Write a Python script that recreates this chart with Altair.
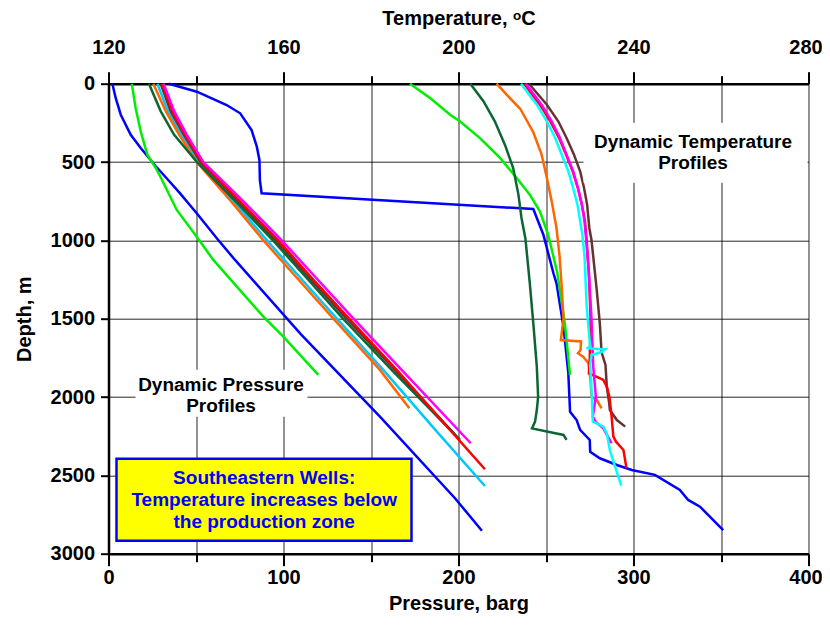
import altair as alt
import pandas as pd

# ---------------- Pressure profiles (pressure barg, depth m) ----------------
p_blue_v = [2.2, 4.1, 7.0, 12.7, 18.4, 27.0, 32.7, 40.9, 50.4, 62.7, 72.3, 110, 155.1, 198, 213.4]
p_blue_d = [0, 91, 198, 326, 411, 527, 597, 700, 827, 998, 1125, 1600, 2125, 2646, 2854]

p_green_v = [13.3, 15.5, 18.4, 22.2, 27.0, 29.8, 39.0, 50.4, 59.9, 88.5, 99.9, 119.9]
p_green_d = [0, 155, 304, 453, 538, 597, 806, 977, 1125, 1487, 1615, 1859]

cl_d = [0, 175, 325, 500, 750, 1000, 1250, 1500, 1827]
p_dkgreen_v = [23.1, 29.8, 37.4, 50.5, 72.5, 94.0, 114.0, 134.0, 161.8, 200.9]
p_dkgreen_d = cl_d + [2274]
p_orange_v = [25.6, 32.7, 40.3, 50.4, 70.0, 88.5, 108.5, 128.5, 155.1, 171.9]
p_orange_d = cl_d + [2072]
p_ltblue_v = [27.9, 34.0, 41.5, 51.5, 71.5, 90.5, 110.5, 130.5, 157.0, 186.0, 215.1]
p_ltblue_d = cl_d + [2200, 2568]
p_brown_v = [29.8, 35.5, 43.0, 52.5, 74.0, 95.5, 115.5, 136.0, 163.7, 198.0]
p_brown_d = cl_d + [2240]
p_red_v = [30.8, 36.5, 43.8, 53.3, 75.0, 97.0, 117.0, 137.5, 164.7, 215.1]
p_red_d = cl_d + [2461]
p_magenta_v = [31.5, 37.5, 44.7, 54.2, 77.0, 99.0, 119.5, 140.0, 167.5, 207.0]
p_magenta_d = cl_d + [2295]

# ---------------- Temperature profiles (degC, depth m) ----------------
t_blue_v = [133.8, 140.2, 147.0, 150.1, 152.7, 153.9, 154.5, 154.6, 155.0, 217.1, 219.4, 221.7, 222.4,
            224.0, 225.1, 225.5, 227.0, 227.8, 230.0, 230.1, 232.3, 236.2, 239.6, 244.9, 250.6, 252.5,
            255.2, 260.5]
t_blue_d = [0, 51, 136, 189, 296, 402, 487, 615, 700, 800, 964, 1210, 1274,
            1551, 1848, 2094, 2147, 2210, 2274, 2349, 2391, 2434, 2466, 2497, 2593, 2657,
            2700, 2849]

t_green_v = [188.9, 193.5, 198.1, 200.3, 204.9, 209.5, 213.3, 216.3, 218.6, 220.5, 222.6, 224.3, 225.5]
t_green_d = [0, 91, 198, 240, 347, 474, 602, 708, 815, 964, 1210, 1530, 1859]

t_dkgreen_v = [202.7, 205.7, 208.3, 210.6, 212.5, 213.7, 214.4, 215.3, 216.3, 217.1, 217.9, 218.2,
               217.9, 217.5, 216.8, 224.0, 224.7]
t_dkgreen_d = [0, 112, 240, 389, 538, 708, 857, 990, 1274, 1530, 1806, 1998,
               2083, 2157, 2200, 2242, 2274]

t_orange_v = [208.7, 211.0, 214.1, 217.1, 219.0, 220.2, 221.3, 222.4, 223.1, 223.6, 224.0, 223.4,
              228.0, 227.9, 227.3, 228.5, 229.7, 230.2, 230.4, 231.6, 232.7]
t_orange_d = [0, 70, 160, 310, 453, 602, 751, 921, 1100, 1300, 1500, 1636,
              1645, 1700, 1721, 1743, 1785, 1900, 1998, 2019, 2072]

t_cyan_v = [214.3, 217.9, 220.2, 222.1, 223.6, 225.1, 226.2, 227.2, 227.8, 228.3, 228.8, 229.3,
            230.1, 229.3, 233.5, 232.7, 230.4, 230.1, 230.4, 230.7, 233.1, 233.9, 234.6, 235.5, 237.2]
t_cyan_d = [0, 134, 240, 347, 453, 559, 666, 772, 878, 960, 1100, 1423,
            1679, 1689, 1696, 1713, 1732, 1796, 1950, 2157, 2189, 2232, 2340, 2420, 2565]

t_magenta_v = [215.4, 219.0, 221.3, 223.2, 224.7, 226.2, 227.3, 228.2, 228.8, 229.2, 229.8, 230.4,
               230.8, 231.4, 230.7, 231.3, 233.1, 235.0]
t_magenta_d = [0, 134, 240, 347, 453, 559, 666, 772, 878, 1000, 1210, 1500,
               1806, 1998, 2125, 2157, 2200, 2295]

t_red_v = [215.0, 218.6, 221.0, 223.0, 224.6, 226.1, 227.3, 228.2, 228.9, 229.3, 229.8, 230.2,
           230.0, 229.8, 231.5, 233.1, 233.9, 234.5, 235.0, 235.4, 236.0, 237.7, 238.4]
t_red_d = [0, 134, 240, 347, 453, 559, 666, 772, 878, 1000, 1210, 1500,
           1750, 1849, 1870, 1891, 1934, 1998, 2125, 2253, 2285, 2338, 2455]

t_brown_v = [216.1, 220.2, 222.8, 224.7, 226.4, 227.8, 228.7, 229.4, 229.9, 230.4, 231.2, 231.6,
             232.3, 232.7, 233.6, 233.9, 234.4, 234.6, 236.2, 238.1]
t_brown_d = [0, 134, 240, 347, 453, 559, 666, 772, 921, 998, 1210, 1317,
             1530, 1715, 1795, 1934, 2030, 2083, 2147, 2189]

pressure_series = [
    ("blue", "#0000ff", p_blue_v, p_blue_d),
    ("green", "#00ee00", p_green_v, p_green_d),
    ("ltblue", "#00c8ff", p_ltblue_v, p_ltblue_d),
    ("orange", "#ff6600", p_orange_v, p_orange_d),
    ("brown", "#663333", p_brown_v, p_brown_d),
    ("dkgreen", "#0b6634", p_dkgreen_v, p_dkgreen_d),
    ("red", "#ff0000", p_red_v, p_red_d),
    ("magenta", "#ff00ff", p_magenta_v, p_magenta_d),
]
temperature_series = [
    ("blue", "#0000ff", t_blue_v, t_blue_d),
    ("green", "#00ee00", t_green_v, t_green_d),
    ("dkgreen", "#0b6634", t_dkgreen_v, t_dkgreen_d),
    ("orange", "#ff6600", t_orange_v, t_orange_d),
    ("brown", "#663333", t_brown_v, t_brown_d),
    ("red", "#ff0000", t_red_v, t_red_d),
    ("magenta", "#ff00ff", t_magenta_v, t_magenta_d),
    ("cyan", "#00ffff", t_cyan_v, t_cyan_d),
]


def build(series):
    rows = []
    for k, (name, col, vals, deps) in enumerate(series):
        for i, (v, d) in enumerate(zip(vals, deps)):
            rows.append({"well": name, "color": col, "value": v, "depth": d, "ord": i, "z": k})
    return pd.DataFrame(rows)


dfP = build(pressure_series)
dfT = build(temperature_series)

FONT = "Liberation Sans"
AXS = 20

y_enc = alt.Y(
    "depth:Q",
    scale=alt.Scale(domain=[0, 3000], reverse=True, nice=False, zero=False),
    axis=alt.Axis(
        values=list(range(0, 3001, 500)), title="Depth, m", grid=True, format="d",
        gridColor="#000000", gridWidth=1, gridOpacity=0.85, labelFlush=False,
        domainColor="#000000", domainWidth=2.5, tickColor="#000000", tickWidth=2, tickSize=8,
        labelFont=FONT, labelFontSize=AXS, labelFontWeight="bold", labelColor="#000000",
        labelPadding=6, titleFont=FONT, titleFontSize=AXS, titleFontWeight="bold",
        titleColor="#000000", titlePadding=16,
    ),
)

press = alt.Chart(dfP).mark_line(strokeWidth=2.5).encode(
    x=alt.X(
        "value:Q",
        scale=alt.Scale(domain=[0, 400], nice=False, zero=False),
        axis=alt.Axis(
            orient="bottom", values=list(range(0, 401, 50)), title="Pressure, barg",
            labelExpr="datum.value % 100 === 0 ? datum.label : ''", labelFlush=False,
            labelOffset={"condition": {"test": "datum.value === 400", "value": -3}, "value": 0},
            grid=True, gridColor="#000000", gridWidth=1, gridOpacity=0.85,
            domainColor="#000000", domainWidth=2.5, tickColor="#000000", tickWidth=2,
            tickSize={"condition": {"test": "datum.value % 100 === 0", "value": 12}, "value": 8},
            labelFont=FONT, labelFontSize=AXS, labelFontWeight="bold", labelColor="#000000",
            labelPadding=2, titleFont=FONT, titleFontSize=AXS, titleFontWeight="bold",
            titleColor="#000000", titlePadding=6,
        ),
    ),
    y=y_enc,
    color=alt.Color("color:N", scale=None),
    detail="well:N",
    order="ord:Q",
)

temp = alt.Chart(dfT).mark_line(strokeWidth=2.5).encode(
    x=alt.X(
        "value:Q",
        scale=alt.Scale(domain=[120, 280], nice=False, zero=False),
        axis=alt.Axis(
            orient="top", values=list(range(120, 281, 20)), title="Temperature, ᵒC",
            labelExpr="(datum.value - 120) % 40 === 0 ? datum.label : ''", labelFlush=False,
            labelOffset={"condition": {"test": "datum.value === 280", "value": -3}, "value": 0},
            grid=False,
            domainColor="#000000", domainWidth=2.5, tickColor="#000000", tickWidth=2,
            tickSize={"condition": {"test": "(datum.value - 120) % 40 === 0", "value": 12}, "value": 8},
            labelFont=FONT, labelFontSize=AXS, labelFontWeight="bold", labelColor="#000000",
            labelPadding=14, titleFont=FONT, titleFontSize=AXS, titleFontWeight="bold",
            titleColor="#000000", titlePadding=9,
        ),
    ),
    y=alt.Y("depth:Q", scale=alt.Scale(domain=[0, 3000], reverse=True, nice=False, zero=False)),
    color=alt.Color("color:N", scale=None),
    detail="well:N",
    order="ord:Q",
)

one = pd.DataFrame({"a": [0]})

white_t = alt.Chart(one).mark_rect(color="white").encode(
    x=alt.value(475), x2=alt.value(699), y=alt.value(39), y2=alt.value(99))
white_p = alt.Chart(one).mark_rect(color="white").encode(
    x=alt.value(27), x2=alt.value(199), y=alt.value(286), y2=alt.value(333))
yellow = alt.Chart(one).mark_rect(color="#ffff00", stroke="#0000ff", strokeWidth=2.5).encode(
    x=alt.value(8), x2=alt.value(303), y=alt.value(375), y2=alt.value(457))

lbl_t = alt.Chart(one).mark_text(
    font=FONT, fontSize=19, fontWeight="bold", color="#000000", lineHeight=21, baseline="middle"
).encode(x=alt.value(584.5), y=alt.value(58), text=alt.value(["Dynamic Temperature", "Profiles"]))
lbl_p = alt.Chart(one).mark_text(
    font=FONT, fontSize=19, fontWeight="bold", color="#000000", lineHeight=21, baseline="middle"
).encode(x=alt.value(112.5), y=alt.value(301), text=alt.value(["Dynamic Pressure", "Profiles"]))
lbl_y = alt.Chart(one).mark_text(
    font=FONT, fontSize=19, fontWeight="bold", color="#0000ff", lineHeight=22, baseline="middle"
).encode(x=alt.value(155.7), y=alt.value(394),
         text=alt.value(["Southeastern Wells:", "Temperature increases below", "the production zone"]))

chart = alt.layer(
    press, temp, white_t, white_p, yellow, lbl_t, lbl_p, lbl_y
).resolve_scale(x="independent").properties(
    width=700, height=470,
    padding={"left": 100.5, "top": 75.7, "right": 13.5, "bottom": 63},
    autosize=alt.AutoSizeParams(type="none"),
    background="white",
).configure_view(stroke=None)

chart.save("out.html", embed_options={"renderer": "svg", "actions": False})
